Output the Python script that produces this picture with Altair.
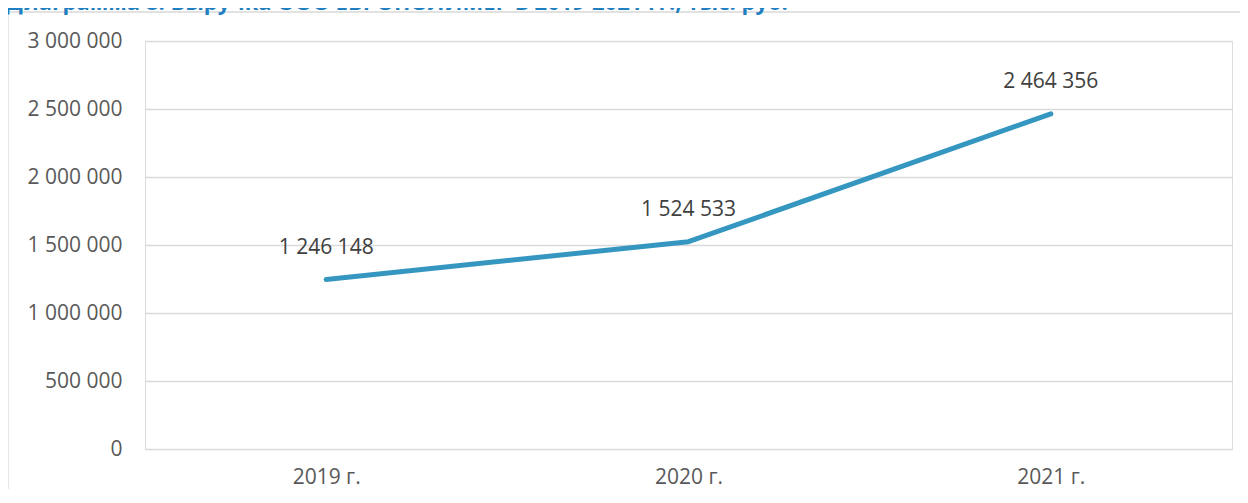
import altair as alt
import pandas as pd

title_text = ["Диаграмма 8. Выручка ООО ЕВРОПОЛИМЕР в 2019-2021 гг., тыс. руб."]
years = ["2019 г.", "2020 г.", "2021 г."]
revenue = [1246148, 1524533, 2464356]
y_ticks = [0, 500000, 1000000, 1500000, 2000000, 2500000, 3000000]

df = pd.DataFrame({"year": years, "revenue": revenue})
FONT = "Open Sans"
W, H = 1087, 408

base = alt.Chart(df)

x_enc = alt.X("year:O", sort=years, title=None,
              scale=alt.Scale(type="point", padding=0.5),
              axis=alt.Axis(labelAngle=0, domain=False, ticks=False, grid=False,
                            labelFont=FONT, labelFontSize=21, labelColor="#595959",
                            labelPadding=17))
y_enc = alt.Y("revenue:Q", title=None,
              scale=alt.Scale(domain=[0, 3000000], nice=False, zero=True),
              axis=alt.Axis(values=y_ticks, format=",d", domain=False, ticks=False,
                            grid=True, gridColor="#d9d9d9", gridWidth=1.5,
                            labelFont=FONT, labelFontSize=21, labelColor="#595959",
                            labelPadding=23))

line = base.mark_line(color="#3597c0", strokeWidth=5, strokeCap="round",
                      strokeJoin="round").encode(x=x_enc, y=y_enc)

labels = base.mark_text(font=FONT, fontSize=21, color="#404040", dy=-32,
                        baseline="middle", align="center").encode(
    x=alt.X("year:O", sort=years),
    y=alt.Y("revenue:Q"),
    text=alt.Text("revenue:Q", format=",d"),
)

one = pd.DataFrame({"k": [0]})
frame_top = alt.Chart(one).mark_rule(color="#d9d9d9", strokeWidth=1.3).encode(
    x=alt.value(-137), x2=alt.value(1095), y=alt.value(-29))
frame_left = alt.Chart(one).mark_rule(color="#d9d9d9", strokeWidth=1.3).encode(
    x=alt.value(-137), y=alt.value(-29), y2=alt.value(448))

title = alt.Chart(pd.DataFrame({"t": title_text})).mark_text(
    font=FONT, fontSize=22, fontWeight="bold", color="#1f7fc0",
    align="left", baseline="alphabetic"
).encode(x=alt.value(-139), y=alt.value(-31), text="t:N")

chart = alt.layer(frame_top, frame_left, line, labels, title).properties(
    width=W, height=H,
    autosize=alt.AutoSizeParams(type="none"),
    padding={"left": 137, "top": 33, "right": 8, "bottom": 40},
).configure_view(stroke=None).configure(
    locale={"number": {"decimal": ",", "thousands": " ", "grouping": [3],
                       "currency": ["", ""]}}
)

chart.save("out.html", embed_options={"renderer": "svg", "actions": False})
